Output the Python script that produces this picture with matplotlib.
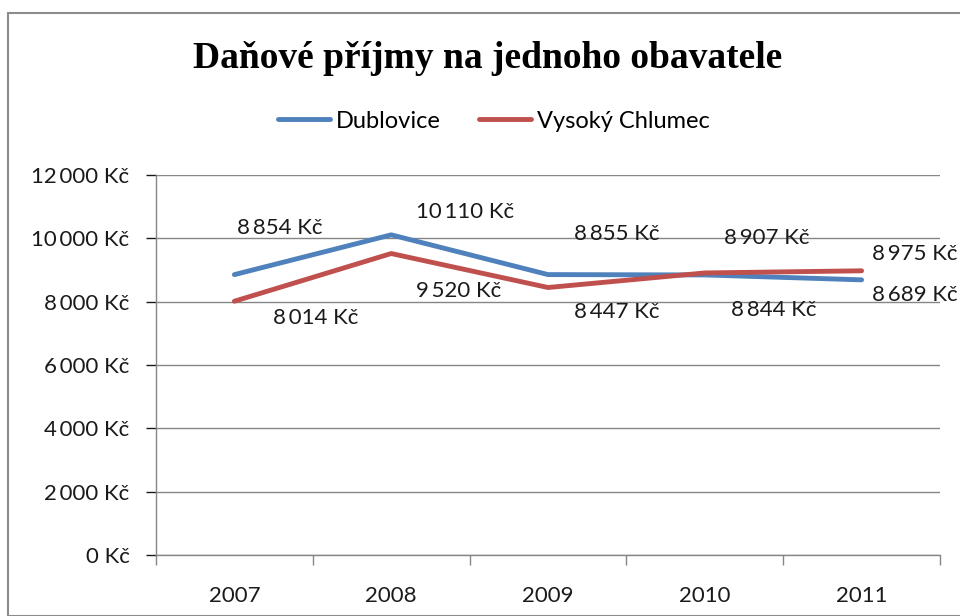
import matplotlib
matplotlib.use("Agg")
import matplotlib.pyplot as plt
from matplotlib.patches import Rectangle

years = ["2007", "2008", "2009", "2010", "2011"]
dublovice = [8854, 10110, 8855, 8844, 8689]
chlumec = [8014, 9520, 8447, 8907, 8975]
yticks = [0, 2000, 4000, 6000, 8000, 10000, 12000]

# label offsets in pixels (style only)
off_d = [(45, 47), (74, 23), (69, 41), (69, -35), (53, -15)]
off_c = [(81, -17), (67, -37), (69, -24), (62, 35), (53, 17)]

def fmt(v):
    return f"{v:,}".replace(",", "\u2009") + " Kč"

plt.rcParams['font.family'] = ['Lato', 'DejaVu Sans']
W, H = 960, 616
fig = plt.figure(figsize=(W/100, H/100), dpi=100)
fig.patches.append(Rectangle((8/W, 0), 1.2, (H-13)/H, transform=fig.transFigure,
                             fill=False, edgecolor="#8c8c8c", linewidth=1.5))

ax = fig.add_axes([156/W, (H-555)/H, (940-156)/W, (555-175)/H])
x = list(range(len(years)))
blue = "#4F81BD"
red = "#C0504D"
ax.plot(x, dublovice, color=blue, lw=3.5, label="Dublovice", solid_capstyle="round")
ax.plot(x, chlumec, color=red, lw=3.5, label="Vysoký Chlumec", solid_capstyle="round")

for i, v in enumerate(dublovice):
    ax.annotate(fmt(v), (i, v), xytext=off_d[i], textcoords="offset pixels",
                ha="center", va="center", fontsize=16, color="#1a1a1a", annotation_clip=False)
for i, v in enumerate(chlumec):
    ax.annotate(fmt(v), (i, v), xytext=off_c[i], textcoords="offset pixels",
                ha="center", va="center", fontsize=16, color="#1a1a1a", annotation_clip=False)

ax.set_xlim(-0.5, len(years) - 0.5)
ax.set_ylim(0, 12000)
ax.set_yticks(yticks)
ax.set_yticklabels([fmt(v) for v in yticks], fontsize=16)
ax.set_xticks(x)
ax.set_xticklabels(years, fontsize=16)
ax.set_xticks([i - 0.5 for i in range(len(years) + 1)], minor=True)
ax.tick_params(axis="x", which="major", length=0, pad=22, colors="#1a1a1a")
ax.tick_params(axis="x", which="minor", length=7, width=1, color="#868686", direction="out")
ax.tick_params(axis="y", length=7, width=1, pad=12, colors="#1a1a1a")
for t in ax.yaxis.get_ticklines():
    t.set_color("#868686")
ax.grid(axis="y", color="#868686", lw=1)
ax.set_axisbelow(True)
for s in ["top", "right"]:
    ax.spines[s].set_visible(False)
for s in ["left", "bottom"]:
    ax.spines[s].set_color("#868686")
    ax.spines[s].set_linewidth(1)

fig.text(488/W, 1 - 58/H, "Daňové příjmy na jednoho obavatele", ha="center", va="center",
         fontsize=27, fontweight="bold", family=["Liberation Serif", "DejaVu Serif"])
fig.legend(loc="center", bbox_to_anchor=(494/W, 1 - 121/H), ncol=2, frameon=False,
           fontsize=17, handlelength=2.2, columnspacing=1.6, handletextpad=0.25)

fig.savefig("out.png", dpi=100)
